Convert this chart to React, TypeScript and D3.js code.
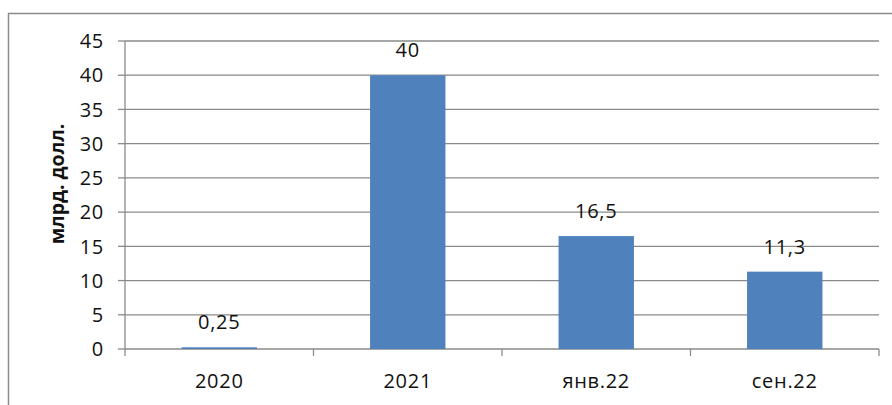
import React from "react";
import * as d3 from "d3";

const categories = ["2020", "2021", "янв.22", "сен.22"];
const values = [0.25, 40, 16.5, 11.3];
const valueLabels = ["0,25", "40", "16,5", "11,3"];
const yTicks = [0, 5, 10, 15, 20, 25, 30, 35, 40, 45];
const yTitle = "млрд. долл.";

const W = 892;
const H = 405;
const FONT = "'Open Sans', sans-serif";

export default function App() {
  const left = 125, right = 879, top = 41, bottom = 349;
  const x = d3.scaleBand<string>().domain(categories).range([left, right]).paddingInner(0).paddingOuter(0);
  const y = d3.scaleLinear().domain([0, 45]).range([bottom, top]);
  const bw = x.bandwidth() / 2.5;
  const tickXs = [...categories.map((c) => x(c)!), right];
  const textProps = { fontFamily: FONT, fontSize: 20, letterSpacing: 0.7, fill: "#111" };
  return (
    <svg width={W} height={H} style={{ position: "absolute", left: 0, top: 0, background: "#fff" }}>
      <rect x={8.5} y={13.5} width={W + 20} height={H + 20} fill="#fff" stroke="#8c8c8c" strokeWidth={1.5} />
      {yTicks.map((t) => (
        <g key={t}>
          {t > 0 && <line x1={left} x2={right} y1={y(t)} y2={y(t)} stroke="#8a8a8a" strokeWidth={1.3} />}
          <line x1={left - 7} x2={left} y1={y(t)} y2={y(t)} stroke="#8a8a8a" strokeWidth={1.3} />
          <text x={104} y={y(t)} dy="0.36em" textAnchor="end" {...textProps}>
            {t}
          </text>
        </g>
      ))}
      <line x1={left} x2={left} y1={top} y2={bottom} stroke="#8a8a8a" strokeWidth={1.3} />
      <line x1={left} x2={right} y1={bottom} y2={bottom} stroke="#8a8a8a" strokeWidth={1.3} />
      {tickXs.map((tx, i) => (
        <line key={i} x1={tx} x2={tx} y1={bottom} y2={bottom + 7} stroke="#8a8a8a" strokeWidth={1.3} />
      ))}
      {categories.map((c, i) => {
        const cx = x(c)! + x.bandwidth() / 2;
        return (
          <g key={c}>
            <rect x={cx - bw / 2} y={y(values[i])} width={bw} height={bottom - y(values[i])} fill="#4f81bd" />
            <text x={cx} y={y(values[i]) - 18} textAnchor="middle" {...textProps}>
              {valueLabels[i]}
            </text>
            <text x={cx} y={381} dy="0.36em" textAnchor="middle" {...textProps}>
              {c}
            </text>
          </g>
        );
      })}
      <text
        transform={`translate(64,184) rotate(-90)`}
        textAnchor="middle"
        fontFamily={FONT}
        fontSize={19.5}
        fontWeight="bold"
        fill="#111"
      >
        {yTitle}
      </text>
    </svg>
  );
}
